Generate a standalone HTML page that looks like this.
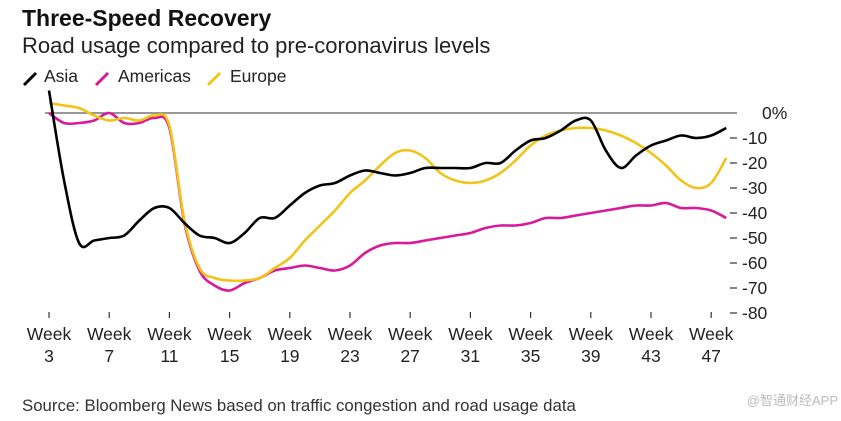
<!DOCTYPE html>
<html><head><meta charset="utf-8"><style>
body{margin:0;background:#fff;font-family:"Liberation Sans",sans-serif;}
#wrap{position:relative;width:841px;height:421px;overflow:hidden;}
</style></head><body>
<div id="wrap">
<svg id="chart" width="841" height="421">
<text x="22" y="26" font-size="23" font-weight="bold" fill="#111">Three-Speed Recovery</text>
<text x="22" y="53" font-size="22" fill="#222">Road usage compared to pre-coronavirus levels</text>
<g>
<g><path d="M24 85 L36 73" stroke="#000" stroke-width="3"/><text x="44" y="82" font-size="17.5" fill="#222">Asia</text></g>
<g><path d="M96 85 L108 73" stroke="#d8199a" stroke-width="3"/><text x="118" y="82" font-size="17.5" fill="#222">Americas</text></g>
<g><path d="M208 85 L220 73" stroke="#f0c419" stroke-width="3"/><text x="230" y="82" font-size="17.5" fill="#222">Europe</text></g>
</g>
<g id="axes"></g>
<g id="series"></g>
<text x="22" y="411" font-size="16.8" fill="#333">Source: Bloomberg News based on traffic congestion and road usage data</text>
<text x="838" y="405" font-size="13" fill="#bbb" text-anchor="end" font-family="Liberation Sans, Noto Sans CJK SC, sans-serif">@智通财经APP</text>
</svg>
</div>
<script>
const weeks=[3,4,5,6,7,8,9,10,11,12,13,14,15,16,17,18,19,20,21,22,23,24,25,26,27,28,29,30,31,32,33,34,35,36,37,38,39,40,41,42,43,44,45,46,47,48];
const asia=[9,-27,-52,-51,-50,-49,-43,-38,-38,-44,-49,-50,-52,-48,-42,-42,-37,-32,-29,-28,-25,-23,-24,-25,-24,-22,-22,-22,-22,-20,-20,-15,-11,-10,-7,-3,-3,-15,-22,-17,-13,-11,-9,-10,-9,-6];
const americas=[0,-4,-4,-3,0,-4,-4,-2,-6,-44,-63,-69,-71,-68,-66,-63,-62,-61,-62,-63,-61,-56,-53,-52,-52,-51,-50,-49,-48,-46,-45,-45,-44,-42,-42,-41,-40,-39,-38,-37,-37,-36,-38,-38,-39,-42];
const europe=[4,3,2,-1,-3,-2,-3,-1,-5,-43,-62,-66,-67,-67,-66,-62,-58,-51,-45,-39,-32,-27,-21,-16,-15,-18,-24,-27,-28,-27,-24,-19,-13,-9,-7,-6,-6,-7,-9,-12,-16,-21,-27,-30,-28,-18];
const yTicks=[0,-10,-20,-30,-40,-50,-60,-70,-80];
const xTicks=[3,7,11,15,19,23,27,31,35,39,43,47];
const X=w=>49+(w-3)*15.05;
const Y=v=>113-v*2.5;
const NS="http://www.w3.org/2000/svg";
const axes=document.getElementById('axes'), ser=document.getElementById('series');
function mk(t,a,p){const e=document.createElementNS(NS,t);for(const k in a)e.setAttribute(k,a[k]);p.appendChild(e);return e;}
const zl=mk('line',{x1:45,x2:737,y1:Y(0),y2:Y(0),stroke:'#777','stroke-width':1.5},axes);


yTicks.forEach(v=>{
 if(v!==0){const t=mk('line',{x1:730,x2:737,y1:Y(v),y2:Y(v),stroke:'#333','stroke-width':1.2},axes);
 
 }
 const l=mk('text',{x:v===0?762:742,y:Y(v)+6,'font-size':17.5,fill:'#222'},axes);
 l.textContent=v===0?'0%':String(v);
 
 
});
xTicks.forEach(w=>{
 const t=mk('line',{x1:X(w),x2:X(w),y1:312,y2:318,stroke:'#333','stroke-width':1.2},axes);
 
 
 const l=mk('text',{x:X(w),y:340,'font-size':17.5,fill:'#222','text-anchor':'middle'},axes);
 l.innerHTML='<tspan x="'+X(w)+'">Week</tspan><tspan x="'+X(w)+'" dy="22">'+w+'</tspan>';
 
 
});
function path(vals){
 const p=vals.map((v,i)=>[X(weeks[i]),Y(v)]);
 let d='M'+p[0][0]+' '+p[0][1];
 for(let i=0;i<p.length-1;i++){
  const p0=p[i-1]||p[i],p1=p[i],p2=p[i+1],p3=p[i+2]||p2;
  const c1=[p1[0]+(p2[0]-p0[0])/6,p1[1]+(p2[1]-p0[1])/6];
  const c2=[p2[0]-(p3[0]-p1[0])/6,p2[1]-(p3[1]-p1[1])/6];
  d+=' C'+c1.join(' ')+' '+c2.join(' ')+' '+p2.join(' ');
 }
 return d;
}
[['americas',americas,'#d8199a'],['europe',europe,'#f0c419'],['asia',asia,'#000']].forEach(s=>{
 const e=mk('path',{d:path(s[1]),fill:'none',stroke:s[2],'stroke-width':2.6,'stroke-linejoin':'round'},ser);
 
 
});
</script>
</body></html>
